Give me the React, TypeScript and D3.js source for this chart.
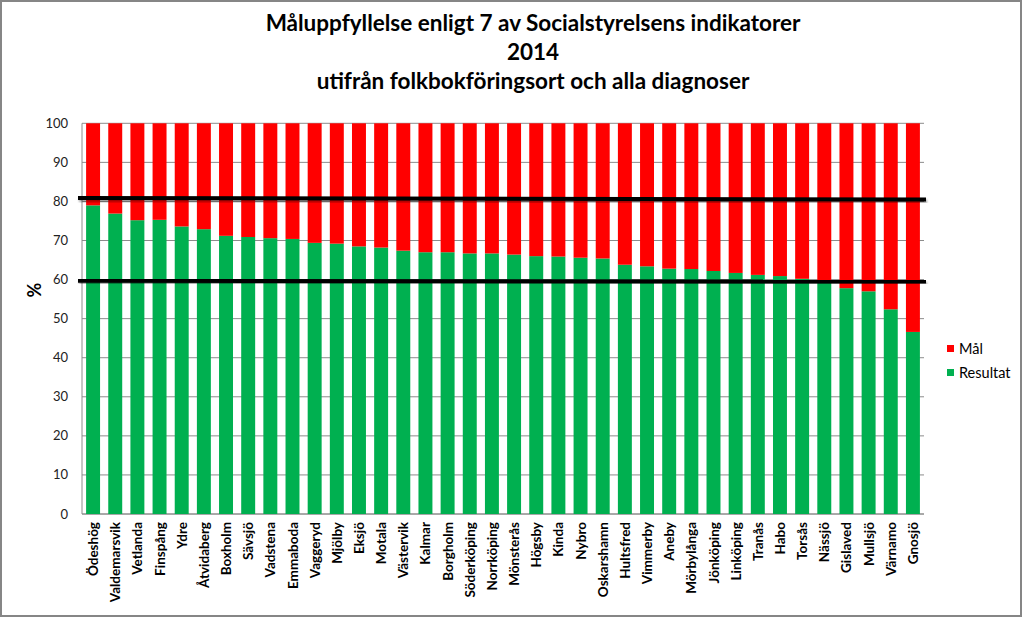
import React from "react";
import * as d3 from "d3";

const categories = [
  "Ödeshög", "Valdemarsvik", "Vetlanda", "Finspång", "Ydre", "Åtvidaberg", "Boxholm", "Sävsjö",
  "Vadstena", "Emmaboda", "Vaggeryd", "Mjölby", "Eksjö", "Motala", "Västervik", "Kalmar",
  "Borgholm", "Söderköping", "Norrköping", "Mönsterås", "Högsby", "Kinda", "Nybro", "Oskarshamn",
  "Hultsfred", "Vimmerby", "Aneby", "Mörbylånga", "Jönköping", "Linköping", "Tranås", "Habo",
  "Torsås", "Nässjö", "Gislaved", "Mullsjö", "Värnamo", "Gnosjö",
];

const resultat = [
  79.0, 76.9, 75.2, 75.3, 73.6, 72.9, 71.2, 70.9,
  70.6, 70.4, 69.4, 69.2, 68.5, 68.2, 67.4, 67.0,
  67.0, 66.7, 66.7, 66.4, 66.0, 65.9, 65.6, 65.4,
  63.8, 63.4, 62.8, 62.7, 62.2, 61.7, 61.2, 60.9,
  60.2, 59.4, 57.8, 57.0, 52.4, 46.6,
];

const mal = [
  21.0, 23.1, 24.8, 24.7, 26.4, 27.1, 28.8, 29.1,
  29.4, 29.6, 30.6, 30.8, 31.5, 31.8, 32.6, 33.0,
  33.0, 33.3, 33.3, 33.6, 34.0, 34.1, 34.4, 34.6,
  36.2, 36.6, 37.2, 37.3, 37.8, 38.3, 38.8, 39.1,
  39.8, 40.6, 42.2, 43.0, 47.6, 53.4,
];

const yTicks = [0, 10, 20, 30, 40, 50, 60, 70, 80, 90, 100];

// reference lines: [value at left end, value at right end]
const refLines = [
  [80.9, 80.5],
  [59.7, 59.5],
];

const titleLines = [
  "Måluppfyllelse enligt 7 av Socialstyrelsens indikatorer",
  "2014",
  "utifrån folkbokföringsort och alla diagnoser",
];

const seriesNames = ["Mål", "Resultat"];
const seriesColors = ["#FF0000", "#00B050"];

const FONT = "Lato, 'Open Sans', sans-serif";

export default function App() {
  const W = 1024;
  const H = 618;
  const plotLeft = 82;
  const plotRight = 924;
  const plotTop = 123.3;
  const plotBottom = 514;

  const x = d3
    .scaleBand<string>()
    .domain(categories)
    .range([plotLeft, plotRight])
    .paddingInner(0.37)
    .paddingOuter(0.185);

  const y = d3.scaleLinear().domain([0, 100]).range([plotBottom, plotTop]);

  const stackData = categories.map((c, i) => ({ cat: c, Resultat: resultat[i], Mål: mal[i] }));
  const stack = d3.stack<any>().keys(["Resultat", "Mål"]);
  const layers = stack(stackData);

  const colorOf = (k: string) => seriesColors[seriesNames.indexOf(k)];

  const lineLeft = 78;
  const lineRight = 926;

  return (
    <svg
      width={W}
      height={H}
      style={{ position: "absolute", left: 0, top: 0, display: "block" }}
      fontFamily={FONT}
    >
      <defs>
        <filter id="shadow" x="-5%" y="-200%" width="110%" height="500%">
          <feGaussianBlur in="SourceAlpha" stdDeviation="1.2" />
          <feOffset dx="1" dy="2" result="ob" />
          <feComponentTransfer>
            <feFuncA type="linear" slope="0.35" />
          </feComponentTransfer>
          <feMerge>
            <feMergeNode />
            <feMergeNode in="SourceGraphic" />
          </feMerge>
        </filter>
      </defs>
      <rect x={0} y={0} width={W} height={H} fill="#fff" />
      <rect x={1} y={1} width={1020} height={615} fill="none" stroke="#868686" strokeWidth={2} />

      {/* Title */}
      {titleLines.map((t, i) => (
        <text
          key={i}
          x={533}
          y={31 + i * 29}
          textAnchor="middle"
          fontSize={22.5}
          fontWeight="bold"
          fill="#000"
        >
          {t}
        </text>
      ))}

      {/* gridlines */}
      {yTicks.map((t) => (
        <line
          key={t}
          x1={plotLeft}
          x2={plotRight}
          y1={y(t)}
          y2={y(t)}
          stroke="#8c8c8c"
          strokeWidth={1}
        />
      ))}

      {/* axes */}
      <line x1={plotLeft} x2={plotLeft} y1={plotTop} y2={plotBottom} stroke="#8c8c8c" />
      <line x1={plotLeft} x2={plotRight} y1={plotBottom} y2={plotBottom} stroke="#8c8c8c" />

      {/* y tick labels */}
      {yTicks.map((t) => (
        <text key={t} x={68} y={y(t) + 4.5} textAnchor="end" fontSize={13} fill="#222">
          {t}
        </text>
      ))}

      <text
        transform={`translate(41,290) rotate(-90)`}
        textAnchor="middle"
        fontSize={18}
        fontWeight="bold"
        fill="#000"
      >
        %
      </text>

      {/* bars */}
      {layers.map((layer) => (
        <g key={layer.key} fill={colorOf(layer.key)}>
          {layer.map((d, i) => (
            <rect
              key={i}
              x={x(categories[i])}
              y={y(d[1])}
              width={x.bandwidth()}
              height={y(d[0]) - y(d[1])}
            />
          ))}
        </g>
      ))}

      {/* reference lines */}
      {refLines.map((r, i) => (
        <line
          key={i}
          x1={lineLeft}
          x2={lineRight}
          y1={y(r[0])}
          y2={y(r[1])}
          stroke="#000"
          strokeWidth={4}
          filter="url(#shadow)"
        />
      ))}

      {/* x labels */}
      {categories.map((c) => {
        const cx = (x(c) as number) + x.bandwidth() / 2 + 5;
        return (
          <text
            key={c}
            transform={`translate(${cx},522) rotate(-90)`}
            textAnchor="end"
            fontSize={13.5}
            fontWeight="bold"
            fill="#000"
          >
            {c}
          </text>
        );
      })}

      {/* legend */}
      {seriesNames.map((s, i) => (
        <g key={s} transform={`translate(947,${345 + i * 24})`}>
          <rect x={0} y={0} width={7} height={7} fill={seriesColors[i]} />
          <text x={12} y={8.5} fontSize={14.5} fill="#000">
            {s}
          </text>
        </g>
      ))}
    </svg>
  );
}
